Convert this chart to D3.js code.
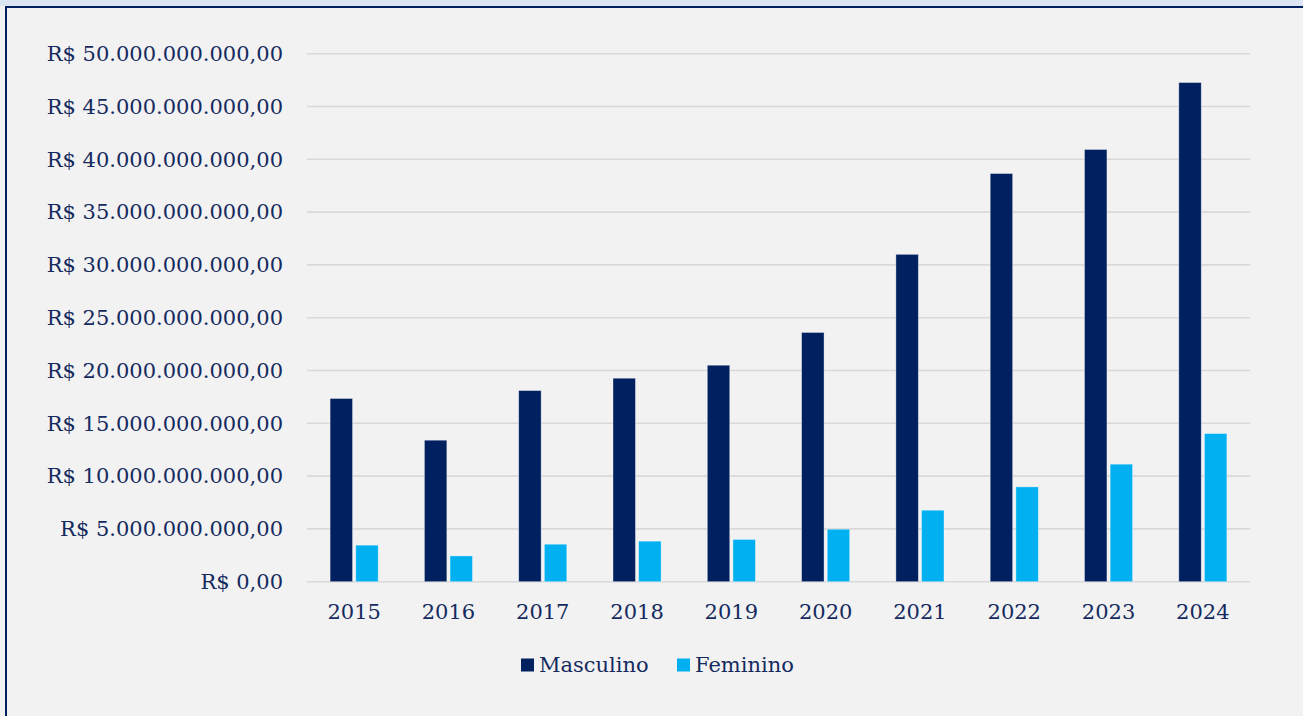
<!DOCTYPE html>
<html>
<head>
<meta charset="utf-8">
<script src="https://cdn.jsdelivr.net/npm/d3@7"></script>
<style>
  html, body { margin: 0; padding: 0; background: #f2f2f2; }
  svg { display: block; }
  text { font-family: "DejaVu Serif", serif; fill: #152a5e; }
</style>
</head>
<body>
<svg id="chart" width="1303" height="716"></svg>
<script>
const SVG_WIDTH = 1303;
const SVG_HEIGHT = 716;
const PLOT_LEFT = 307;
const PLOT_RIGHT = 1250;
const PLOT_TOP = 53.7;
const PLOT_BOTTOM = 581.7;
const FONT_SIZE = 21;
const GRID_COLOR = "#d9d9d9";

// data (values in R$)
const years = ["2015", "2016", "2017", "2018", "2019", "2020", "2021", "2022", "2023", "2024"];
const seriesNames = ["Masculino", "Feminino"];
const seriesColors = ["#002060", "#00b0f0"];
const masculino = [17.35e9, 13.4e9, 18.1e9, 19.27e9, 20.5e9, 23.6e9, 31.0e9, 38.65e9, 40.93e9, 47.27e9];
const feminino = [3.46e9, 2.44e9, 3.55e9, 3.84e9, 4.0e9, 4.97e9, 6.77e9, 8.98e9, 11.13e9, 14.03e9];
const yTicks = [0, 5e9, 10e9, 15e9, 20e9, 25e9, 30e9, 35e9, 40e9, 45e9, 50e9];

const brl = d3.formatLocale({ decimal: ",", thousands: ".", grouping: [3], currency: ["R$ ", ""] });
const fmt = brl.format("$,.2f");

const svg = d3.select("#chart");

// frame: light band on top, navy border lines
svg.append("rect").attr("x", 0).attr("y", 0).attr("width", SVG_WIDTH).attr("height", 6).attr("fill", "#dce6f2");
svg.append("rect").attr("x", 5).attr("y", 6).attr("width", SVG_WIDTH - 5).attr("height", 2).attr("fill", "#002060");
svg.append("rect").attr("x", 5).attr("y", 6).attr("width", 2).attr("height", SVG_HEIGHT - 6).attr("fill", "#002060");

const y = d3.scaleLinear().domain([0, 50e9]).range([PLOT_BOTTOM, PLOT_TOP]);
const x0 = d3.scaleBand().domain(years).range([PLOT_LEFT, PLOT_RIGHT]).paddingInner(0.49).paddingOuter(0.245);
const x1 = d3.scaleBand().domain(seriesNames).range([0, x0.bandwidth()]).paddingInner(0.125);

// gridlines
svg.append("g")
    .selectAll("line")
    .data(yTicks)
    .join("line")
    .attr("x1", PLOT_LEFT)
    .attr("x2", PLOT_RIGHT)
    .attr("y1", d => y(d))
    .attr("y2", d => y(d))
    .attr("stroke", GRID_COLOR)
    .attr("stroke-width", 1.6);

// y axis labels
svg.append("g")
    .selectAll("text")
    .data(yTicks)
    .join("text")
    .attr("x", PLOT_LEFT - 24)
    .attr("y", d => y(d))
    .attr("dy", "0.35em")
    .attr("text-anchor", "end")
    .style("font-size", FONT_SIZE + "px")
    .text(d => fmt(d));

// bars
const rows = years.map((yr, i) => ({ year: yr, values: [masculino[i], feminino[i]] }));
svg.append("g")
    .selectAll("g")
    .data(rows)
    .join("g")
    .attr("transform", d => `translate(${x0(d.year)},0)`)
    .selectAll("rect")
    .data(d => d.values.map((v, k) => ({ name: seriesNames[k], value: v, color: seriesColors[k] })))
    .join("rect")
    .attr("x", d => x1(d.name))
    .attr("y", d => y(d.value))
    .attr("width", x1.bandwidth())
    .attr("height", d => y(0) - y(d.value))
    .attr("fill", d => d.color)
    .attr("stroke", "#ffffff")
    .attr("stroke-opacity", 0.45)
    .attr("stroke-width", 0.8);

// x axis labels
svg.append("g")
    .selectAll("text")
    .data(years)
    .join("text")
    .attr("x", d => x0(d) + x0.bandwidth() / 2)
    .attr("y", 612)
    .attr("dy", "0.35em")
    .attr("text-anchor", "middle")
    .style("font-size", FONT_SIZE + "px")
    .text(d => d);

// legend
const legendX = [521, 677];
const legend = svg.append("g")
    .selectAll("g")
    .data(seriesNames)
    .join("g")
    .attr("transform", (d, i) => `translate(${legendX[i]},665)`);
legend.append("rect")
    .attr("x", 0)
    .attr("y", -6.5)
    .attr("width", 13)
    .attr("height", 13)
    .attr("fill", (d, i) => seriesColors[i]);
legend.append("text")
    .attr("x", 18)
    .attr("dy", "0.35em")
    .style("font-size", FONT_SIZE + "px")
    .text(d => d);
</script>
</body>
</html>
